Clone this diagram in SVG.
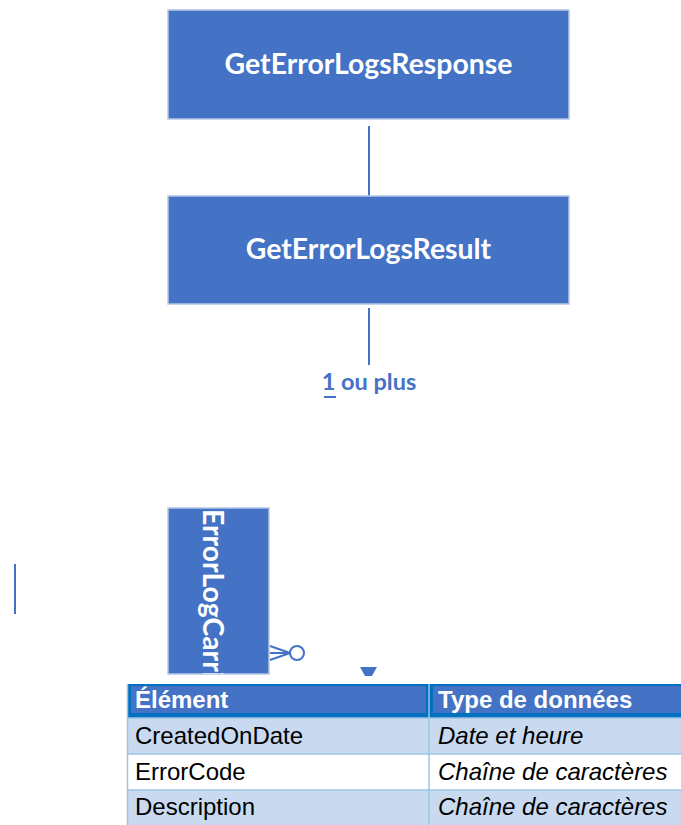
<svg xmlns="http://www.w3.org/2000/svg" width="681" height="825" viewBox="0 0 681 825">
  <style>
    .box { fill: #4472C4; stroke: #B4C7E7; stroke-width: 1.5; }
    .title { font-family: Lato, "Open Sans", sans-serif; font-weight: bold; font-size: 28.4px; fill: #FFFFFF; }
    .conn { stroke: #4472C4; stroke-width: 2; fill: none; }
    .lbl { font-family: Lato, "Open Sans", sans-serif; font-weight: bold; font-size: 23.5px; fill: #4472C4; }
    .cell { font-family: "Liberation Sans", Arial, sans-serif; font-size: 24px; fill: #000000; }
    .head { font-family: "Liberation Sans", Arial, sans-serif; font-size: 24px; font-weight: bold; fill: #FFFFFF; }
    .it { font-style: italic; }
    .grid { stroke: #9DC3E6; stroke-width: 1.5; }
  </style>
  <defs>
    <clipPath id="clipCarrier">
      <rect x="168" y="508" width="101" height="166"/>
    </clipPath>
  </defs>

  <rect width="681" height="825" fill="#FFFFFF"/>

  <g id="connectors">
    <line class="conn" x1="369" y1="126" x2="369" y2="196"/>
    <line class="conn" x1="369" y1="308" x2="369" y2="365"/>
    <line class="conn" x1="15" y1="564" x2="15" y2="614"/>
    <g id="crowsfoot" class="conn" stroke-width="1.5">
      <line x1="270" y1="646" x2="290" y2="653"/>
      <line x1="270" y1="653" x2="290" y2="653"/>
      <line x1="270" y1="660" x2="290" y2="653"/>
      <circle cx="297" cy="653" r="7"/>
    </g>
    <polygon points="360,667 377,667 372,676 365,676" fill="#4472C4"/>
    <g id="multiplicity">
      <text class="lbl" x="369" y="390" text-anchor="middle">1 ou plus</text>
      <line x1="324" y1="397" x2="336" y2="397" stroke="#4472C4" stroke-width="2"/>
    </g>
  </g>

  <g id="GetErrorLogsResponse">
    <rect class="box" x="168" y="10" width="401" height="109"/>
    <text class="title" x="368.5" y="74" text-anchor="middle">GetErrorLogsResponse</text>
  </g>

  <g id="GetErrorLogsResult">
    <rect class="box" x="168" y="196" width="401" height="108"/>
    <text class="title" x="368.5" y="259" text-anchor="middle">GetErrorLogsResult</text>
  </g>

  <g id="ErrorLogCarrier">
    <rect class="box" x="168" y="508" width="101" height="166"/>
    <g clip-path="url(#clipCarrier)">
      <text class="title" transform="translate(203,509) rotate(90)" x="0" y="0">ErrorLogCarrier</text>
    </g>
  </g>

  <g id="table">
    <!-- header -->
    <rect x="127" y="684" width="554" height="34" fill="#0070C0"/>
    <rect x="131" y="686" width="295" height="27" fill="#4472C4"/>
    <rect x="433" y="686" width="248" height="27" fill="#4472C4"/>
    <text class="head" x="135" y="708">Élément</text>
    <text class="head" x="438" y="708">Type de données</text>
    <!-- rows -->
    <rect x="127" y="718" width="554" height="36" fill="#C9DAF0"/>
    <rect x="127" y="754" width="554" height="36" fill="#FFFFFF"/>
    <rect x="127" y="790" width="554" height="35" fill="#C9DAF0"/>
    <line class="grid" x1="127" y1="718" x2="681" y2="718"/>
    <line class="grid" x1="127" y1="754" x2="681" y2="754"/>
    <line class="grid" x1="127" y1="790" x2="681" y2="790"/>
    <line class="grid" x1="127.5" y1="684" x2="127.5" y2="825"/>
    <line class="grid" x1="429" y1="718" x2="429" y2="825"/>
    <line x1="429" y1="684" x2="429" y2="718" stroke="#9DC3E6" stroke-width="1.5"/>
    <text class="cell" x="135" y="744">CreatedOnDate</text>
    <text class="cell it" x="438" y="744">Date et heure</text>
    <text class="cell" x="135" y="780">ErrorCode</text>
    <text class="cell it" x="438" y="780">Chaîne de caractères</text>
    <text class="cell" x="135" y="815">Description</text>
    <text class="cell it" x="438" y="815">Chaîne de caractères</text>
  </g>
</svg>
